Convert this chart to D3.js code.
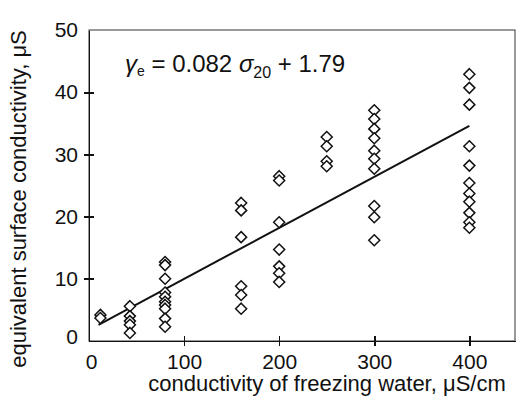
<!DOCTYPE html>
<html>
<head>
<meta charset="utf-8">
<script src="https://cdn.jsdelivr.net/npm/d3@7"></script>
<style>
  body { margin: 0; background: #fff; }
  text { font-family: "Liberation Sans", Arial, sans-serif; fill: #111; }
</style>
</head>
<body>
<div id="chart"></div>
<script>
// freezing water conductivity (uS/cm) for each group of samples
var xGroups = [12, 43, 80, 160, 200, 250, 300, 400];
// equivalent surface conductivity (uS), one array per group
var yGroups = [
  [4.2, 3.7],
  [5.6, 4.0, 3.2, 2.6, 1.3],
  [12.7, 12.2, 10.0, 7.8, 7.1, 6.3, 5.8, 5.2, 3.6, 2.3],
  [22.2, 21.0, 16.7, 8.8, 7.4, 5.2],
  [26.5, 25.8, 19.1, 14.7, 12.0, 10.9, 9.5],
  [32.8, 31.3, 28.9, 28.1],
  [37.1, 35.7, 34.1, 32.6, 30.6, 29.3, 27.7, 21.7, 19.9, 16.2],
  [42.9, 40.7, 38.0, 31.3, 28.2, 25.4, 23.7, 22.4, 20.6, 19.1, 18.2]
];
var xTicks = [0, 100, 200, 300, 400];
var yTicks = [0, 10, 20, 30, 40, 50];
// regression shown on the chart: y = 0.082 x + 1.79
var fitSlope = 0.082;
var fitIntercept = 1.79;
var fitRange = [10, 400];

var svgWidth = 520;
var svgHeight = 400;
var margin = { top: 30, right: 5, bottom: 59, left: 89 };

var svg = d3.select('#chart')
  .append('svg')
  .attr('width', svgWidth)
  .attr('height', svgHeight);

var plotW = svgWidth - margin.left - margin.right;
var plotH = svgHeight - margin.top - margin.bottom;

var x = d3.scaleLinear().domain([0, 448]).range([0, plotW]);
var y = d3.scaleLinear().domain([0, 50]).range([plotH, 0]);

var g = svg.append('g')
  .attr('transform', 'translate(' + margin.left + ',' + margin.top + ')');

// frame
g.append('rect')
  .attr('x', 0).attr('y', 0)
  .attr('width', plotW).attr('height', plotH)
  .attr('fill', 'none')
  .attr('stroke', '#555')
  .attr('stroke-width', 1.2);

// x axis, ticks crossing the bottom line
var xAxisG = g.append('g')
  .attr('transform', 'translate(0,' + plotH + ')')
  .call(d3.axisBottom(x).tickValues(xTicks).tickSizeInner(5).tickSizeOuter(0).tickPadding(8));
xAxisG.select('.domain').attr('stroke', '#111').attr('stroke-width', 1.6);
xAxisG.selectAll('line').attr('y1', -5).attr('stroke', '#111').attr('stroke-width', 1.6);
xAxisG.selectAll('.tick').filter(function (d) { return d === 0; }).select('line').remove();
xAxisG.selectAll('text').attr('font-size', '21px').attr('fill', '#111');

// y axis
var yAxisG = g.append('g')
  .call(d3.axisLeft(y).tickValues(yTicks).tickSizeInner(5).tickSizeOuter(0).tickPadding(6));
yAxisG.select('.domain').attr('stroke', '#111').attr('stroke-width', 1.6);
yAxisG.selectAll('line').attr('x1', 5).attr('stroke', '#111').attr('stroke-width', 1.6);
yAxisG.selectAll('.tick').filter(function (d) { return d === 0 || d === 50; }).select('line').remove();
yAxisG.selectAll('text').attr('font-size', '21px').attr('fill', '#111');
yAxisG.selectAll('.tick').filter(function (d) { return d === 0; }).select('text').attr('dy', '0.1em');
xAxisG.selectAll('.tick').filter(function (d) { return d === 0; }).select('text').attr('dx', '0.1em');
svg.selectAll('.domain, .tick line').attr('shape-rendering', 'crispEdges');

// regression line
g.append('line')
  .attr('x1', x(fitRange[0])).attr('y1', y(fitSlope * fitRange[0] + fitIntercept))
  .attr('x2', x(fitRange[1])).attr('y2', y(fitSlope * fitRange[1] + fitIntercept))
  .attr('stroke', '#111')
  .attr('stroke-width', 2);

// points as open diamonds
var points = [];
xGroups.forEach(function (xv, i) {
  yGroups[i].forEach(function (yv) { points.push({ x: xv, y: yv }); });
});
var diamond = 'M0,-5.5L5.5,0L0,5.5L-5.5,0Z';
g.selectAll('.pt')
  .data(points)
  .enter()
  .append('path')
  .attr('class', 'pt')
  .attr('d', diamond)
  .attr('transform', function (d) { return 'translate(' + x(d.x) + ',' + y(d.y) + ')'; })
  .attr('fill', '#fff')
  .attr('stroke', '#111')
  .attr('stroke-width', 1.5);

// equation
var eq = svg.append('text')
  .attr('x', 125)
  .attr('y', 72)
  .attr('font-size', '24px');
eq.append('tspan').attr('font-style', 'italic').text('γ');
eq.append('tspan').attr('font-size', '14px').attr('dy', 4).text('e');
eq.append('tspan').attr('dy', -4).text(' = 0.082 ');
eq.append('tspan').attr('font-style', 'italic').text('σ');
eq.append('tspan').attr('font-size', '16px').attr('dy', 6).text('20');
eq.append('tspan').attr('dy', -6).text(' + 1.79');

// axis titles
svg.append('text')
  .attr('x', 327)
  .attr('y', 391)
  .attr('text-anchor', 'middle')
  .attr('font-size', '22px')
  .text('conductivity of freezing water, μS/cm');

svg.append('text')
  .attr('transform', 'translate(26,199) rotate(-90)')
  .attr('text-anchor', 'middle')
  .attr('font-size', '22px')
  .text('equivalent surface conductivity, μS');
</script>
</body>
</html>
